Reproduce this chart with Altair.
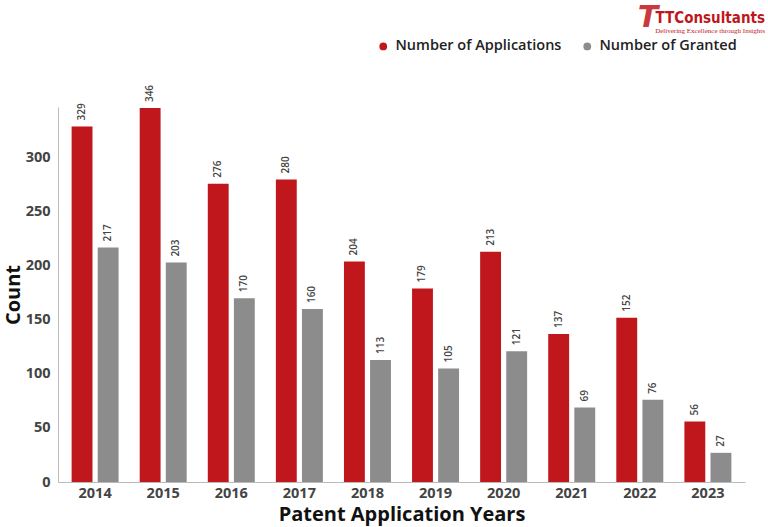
import altair as alt
import pandas as pd

years = ["2014", "2015", "2016", "2017", "2018", "2019", "2020", "2021", "2022", "2023"]
applications = [329, 346, 276, 280, 204, 179, 213, 137, 152, 56]
granted = [217, 203, 170, 160, 113, 105, 121, 69, 76, 27]
series_names = ["Number of Applications", "Number of Granted"]
colors = ["#c0171c", "#8c8c8c"]

rows = []
for y, a, g in zip(years, applications, granted):
    rows.append({"year": y, "series": series_names[0], "value": a})
    rows.append({"year": y, "series": series_names[1], "value": g})
df = pd.DataFrame(rows)

FONT = "Open Sans"

x = alt.X("year:N", title="Patent Application Years",
          scale=alt.Scale(paddingInner=0.31, paddingOuter=0.2),
          axis=alt.Axis(labelAngle=0, labelFontSize=14.5, labelFontWeight="bold",
                        labelColor="#444444", titleFontSize=20, titleFontWeight="bold",
                        titleColor="#111111", domainColor="#bbbbbb", ticks=False,
                        labelPadding=4, titlePadding=5, labelFont=FONT, titleFont=FONT))
y = alt.Y("value:Q", title="Count",
          scale=alt.Scale(domain=[0, 347], nice=False),
          axis=alt.Axis(values=[0, 50, 100, 150, 200, 250, 300], grid=False,
                        labelFontSize=14.5, labelFontWeight="bold", labelColor="#444444",
                        titleFontSize=20, titleFontWeight="bold", titleColor="#111111",
                        domainColor="#bbbbbb", ticks=False, labelPadding=8,
                        titlePadding=2, labelFont=FONT, titleFont=FONT))
xo = alt.XOffset("series:N", scale=alt.Scale(domain=series_names, paddingInner=0.2))
color = alt.Color("series:N", scale=alt.Scale(domain=series_names, range=colors),
                  title=None,
                  legend=alt.Legend(orient="none", legendX=318, legendY=-68,
                                    direction="horizontal", symbolType="circle",
                                    symbolSize=60, labelFontSize=14.5,
                                    labelFontWeight=600, labelColor="#222222",
                                    labelFont=FONT, columnPadding=18, labelLimit=400,
                                    symbolStrokeWidth=0, labelOffset=5))

base = alt.Chart(df).encode(x=x, xOffset=xo)
bars = base.mark_bar().encode(y=y, color=color)
labels = base.mark_text(angle=270, align="left", baseline="middle", dx=6,
                        fontSize=10, fontWeight=600, color="#444444", font=FONT
                        ).encode(y="value:Q", text="value:Q")

logo0 = alt.Chart(pd.DataFrame({"t": ["T"]})).mark_text(
    font="DejaVu Sans", fontSize=30, fontStyle="italic", fontWeight="bold", color="#c0171c",
    opacity=0.85, align="center", baseline="alphabetic"
).encode(x=alt.value(590), y=alt.value(-80), text="t:N")
logo1 = alt.Chart(pd.DataFrame({"t": ["TTConsultants"]})).mark_text(
    font="DejaVu Sans Condensed", fontSize=15, fontWeight="bold", color="#c0171c",
    align="right", baseline="alphabetic"
).encode(x=alt.value(707), y=alt.value(-84), text="t:N")
logo2 = alt.Chart(pd.DataFrame({"t": ["Delivering Excellence through Insights"]})).mark_text(
    font="Liberation Serif", fontSize=7, color="#c0171c", align="right", baseline="alphabetic"
).encode(x=alt.value(707), y=alt.value(-74), text="t:N")

chart = alt.layer(bars, labels, logo0, logo1, logo2).properties(
    width=687, height=375,
    autosize=alt.AutoSizeParams(type="none"),
    padding={"left": 58, "top": 107, "right": 23, "bottom": 45},
).configure_view(stroke=None)

chart.save("out.html", embed_options={"renderer": "svg", "actions": False})
